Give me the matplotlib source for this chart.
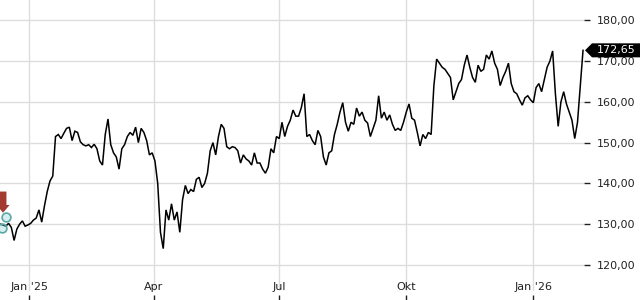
import pandas as pd
import matplotlib
matplotlib.use("Agg")
import matplotlib.pyplot as plt
from matplotlib.patches import Polygon
from matplotlib.transforms import blended_transform_factory
from matplotlib.ticker import FuncFormatter

# closing prices, one value every two calendar days from start_date
start_date = "2024-12-11"
prices = [
    130, 129.8, 129.5, 130.2, 129.2, 126, 128.8, 130, 130.8, 129.5,
    129.8, 130.2, 131, 131.5, 133.5, 130.5, 134.5, 138, 140.6, 141.8,
    151.5, 152, 151, 152.3, 153.5, 153.8, 150.5, 152.8, 152.5, 150.2,
    149.5, 149.2, 149.5, 148.8, 149.6, 148.5, 145.5, 144.5, 152, 155.8,
    149.5, 147.5, 146.5, 143.5, 148.5, 149.5, 151.5, 152.5, 151.8, 153.8,
    150, 153.5, 152.5, 150.5, 147, 147.5, 145.5, 140, 128, 124,
    133.5, 131, 135, 131, 133, 128, 136, 139.5, 137.5, 138.5,
    138, 141, 141.5, 139, 140, 142.5, 148, 150, 147, 151.5,
    154.5, 153.5, 149, 148.5, 149, 148.8, 148, 145, 147, 146,
    145.5, 144.5, 147.5, 145, 145, 143.5, 142.5, 144, 148.5, 147.5,
    151.5, 151, 155, 151.5, 154, 155.5, 158, 156.5, 156.5, 158.6,
    162, 151.5, 152, 150.5, 149.5, 153, 151.5, 146.5, 144.5, 147.5,
    148, 152, 154.5, 157.5, 159.8, 155, 152.8, 155, 154.5, 158.5,
    156.5, 157.5, 155.5, 154.8, 151.5, 153.5, 155.5, 161.5, 156, 157.5,
    155.5, 156.8, 154.5, 153, 153.5, 153, 155, 157.5, 159.5, 156,
    155.5, 152.5, 149.2, 152, 151, 152.5, 152, 164, 170.5, 169.5,
    168.5, 168, 167, 166, 160.5, 162.5, 164.5, 165.5, 169, 171.5,
    168.5, 166, 164.8, 169, 167.5, 168, 171.5, 170.5, 172.5, 169.5,
    168, 164, 166, 167.5, 169.5, 164.5, 162.5, 162, 160.5, 159.2,
    161, 161.5, 160.5, 159.8, 163.5, 164.5, 162.5, 165.5, 168.5, 170,
    172.5, 162, 154, 160, 162.5, 159.5, 157.5, 155.5, 151, 155,
    164, 172.65,
]
last_price = 172.65

month_ticks = ["2025-01-01", "2025-04-01", "2025-07-01", "2025-10-01", "2026-01-01"]
month_labels = ["Jan '25", "Apr", "Jul", "Okt", "Jan '26"]
price_ticks = [120, 130, 140, 150, 160, 170, 180]

# trade markers near the start
arrow_date = "2024-12-13"
arrow_top, arrow_tip = 138.0, 132.8
circle_dates = ["2024-12-12", "2024-12-15"]
circle_prices = [129.1, 131.8]

plt.rcParams["font.family"] = "DejaVu Sans"
plt.rcParams["font.size"] = 8

dates = pd.date_range(start_date, periods=len(prices), freq="2D")
tick_dates = pd.to_datetime(month_ticks)

fig = plt.figure(figsize=(6.4, 3), dpi=100)
ax = fig.add_axes([0, 9 / 300, 584 / 640, 291 / 300])

ax.plot(dates, prices, color="black", lw=1.1, solid_joinstyle="miter")

# markers
ax.annotate("", xy=(pd.Timestamp(arrow_date), arrow_tip),
            xytext=(pd.Timestamp(arrow_date), arrow_top),
            arrowprops=dict(arrowstyle="simple,head_length=0.8,head_width=1.35,tail_width=0.7",
                            mutation_scale=7, color="#a33a30", lw=0, shrinkA=0, shrinkB=0))
ax.scatter(pd.to_datetime(circle_dates), circle_prices, s=40, facecolor=(0.4, 0.75, 0.75, 0.25),
           edgecolor="#5aa8a8", lw=1.2, zorder=3)

ax.set_xlim(pd.Timestamp("2024-12-10 19:00"), pd.Timestamp("2026-02-06 17:00"))
ax.set_ylim(113.6, 185.0)

# x axis: gridlines only, labels and small marks drawn below
ax.set_xticks(tick_dates)
ax.set_xticklabels([])
ax.tick_params(axis="x", length=0)
lab_tr = blended_transform_factory(ax.transData, fig.transFigure)
for d, lab in zip(tick_dates, month_labels):
    ax.text(d, 1 - 287 / 300, lab, transform=lab_tr,
            ha="center", va="center", color="#222222", fontsize=8)
ax.vlines(tick_dates, 0, 1 - 295 / 300, transform=lab_tr, color="#222222", lw=1, clip_on=False)

ax.yaxis.tick_right()
ax.set_yticks(price_ticks)
ax.yaxis.set_major_formatter(FuncFormatter(lambda v, p: f"{v:.2f}".replace(".", ",")))
ax.tick_params(axis="y", direction="out", length=4, width=1, pad=5.5, colors="#222222")

ax.grid(True, color="#dddddd", lw=1)
ax.set_axisbelow(True)
for s in ax.spines.values():
    s.set_visible(False)

# current price tag on the right
tr = blended_transform_factory(fig.transFigure, ax.transData)
h = 7 / 4.075
x0, x1 = 585 / 640, 592 / 640
tag = Polygon([(x0, last_price), (x1, last_price + h), (1.0, last_price + h),
               (1.0, last_price - h), (x1, last_price - h)],
              closed=True, transform=tr, fc="black", ec="none", clip_on=False)
fig.patches.append(tag)
fig.text(597 / 640, last_price, f"{last_price:.2f}".replace(".", ","), transform=tr,
         color="white", ha="left", va="center", fontsize=8)

fig.savefig("out.png", dpi=100)
